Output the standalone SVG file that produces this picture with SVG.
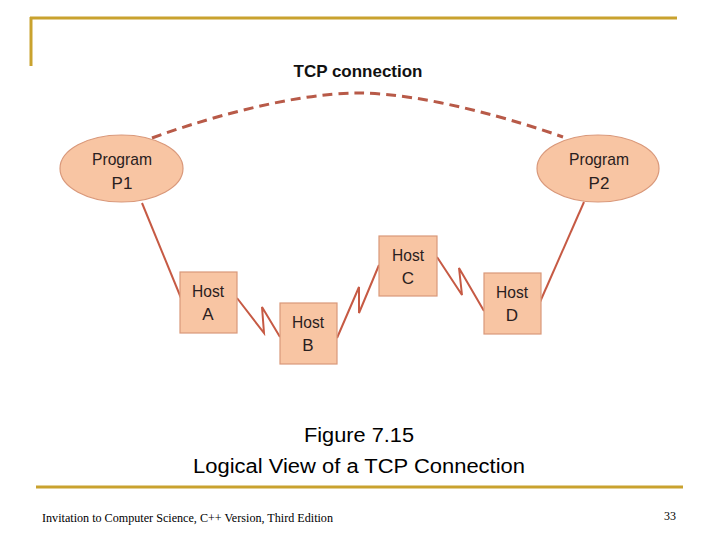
<svg xmlns="http://www.w3.org/2000/svg" width="720" height="540" viewBox="0 0 720 540">
<style>
.frame{stroke:#c9a22e;stroke-width:3;fill:none}
.node{fill:#f8c5a3;stroke:#d9987a;stroke-width:1.2}
.lbl{font-family:"Liberation Sans",Arial,sans-serif;font-size:17px;fill:#2a2020;text-anchor:middle}
.link{stroke:#c65a44;stroke-width:2;fill:none;stroke-linejoin:miter}
.dash{stroke:#b85a48;stroke-width:3;fill:none;stroke-dasharray:10 6}
.cap{font-family:"Liberation Sans",Arial,sans-serif;font-size:20px;fill:#000;text-anchor:middle}
.foot{font-family:"Liberation Serif","Times New Roman",serif;font-size:12px;fill:#000}
</style>
<rect width="720" height="540" fill="#fff"/>
<g id="frame">
<line class="frame" x1="30" y1="18" x2="677" y2="18"/>
<line class="frame" x1="31" y1="17" x2="31" y2="66"/>
<line class="frame" x1="36" y1="487" x2="683" y2="487"/>
</g>
<text x="358" y="77" style="font-family:'Liberation Sans',Arial,sans-serif;font-size:17px;font-weight:bold;fill:#111;text-anchor:middle" textLength="129" lengthAdjust="spacingAndGlyphs">TCP connection</text>
<g id="connectors">
<path class="dash" d="M152,138 C195,122 290,93 358,93 C426,93 521,122 563,137"/>
<line class="link" x1="142" y1="203" x2="181" y2="298"/>
<line class="link" x1="584" y1="202" x2="540" y2="302"/>
<polyline class="link" points="237,298 264,333 262,307 280,337"/>
<polyline class="link" points="337,338 359,287 359,313 379,265"/>
<polyline class="link" points="437,257 462,295 459,268 484,311"/>
</g>
<g id="p1">
<ellipse class="node" cx="121.5" cy="168.5" rx="61.5" ry="33.5"/>
<text class="lbl" x="122" y="165" textLength="60" lengthAdjust="spacingAndGlyphs">Program</text>
<text class="lbl" x="122" y="189">P1</text>
</g>
<g id="p2">
<ellipse class="node" cx="598" cy="168.5" rx="61" ry="33.5"/>
<text class="lbl" x="599" y="165" textLength="60" lengthAdjust="spacingAndGlyphs">Program</text>
<text class="lbl" x="599" y="189">P2</text>
</g>
<g id="hostA">
<rect class="node" x="180" y="272" width="57" height="61"/>
<text class="lbl" x="208" y="297" textLength="32" lengthAdjust="spacingAndGlyphs">Host</text>
<text class="lbl" x="208" y="320">A</text>
</g>
<g id="hostB">
<rect class="node" x="280" y="303" width="57" height="61"/>
<text class="lbl" x="308" y="328" textLength="32" lengthAdjust="spacingAndGlyphs">Host</text>
<text class="lbl" x="308" y="351">B</text>
</g>
<g id="hostC">
<rect class="node" x="379" y="236" width="58" height="60"/>
<text class="lbl" x="408" y="261" textLength="32" lengthAdjust="spacingAndGlyphs">Host</text>
<text class="lbl" x="408" y="284">C</text>
</g>
<g id="hostD">
<rect class="node" x="484" y="273" width="57" height="61"/>
<text class="lbl" x="512" y="298" textLength="32" lengthAdjust="spacingAndGlyphs">Host</text>
<text class="lbl" x="512" y="321">D</text>
</g>
<text class="cap" x="359" y="442" textLength="110" lengthAdjust="spacingAndGlyphs">Figure 7.15</text>
<text class="cap" x="359" y="473" textLength="332" lengthAdjust="spacingAndGlyphs">Logical View of a TCP Connection</text>
<text class="foot" x="42" y="522" textLength="291" lengthAdjust="spacingAndGlyphs">Invitation to Computer Science, C++ Version, Third Edition</text>
<text class="foot" x="664" y="520">33</text>
</svg>
